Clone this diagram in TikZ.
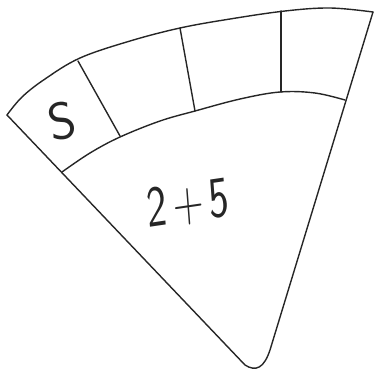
\documentclass[tikz,border=0pt]{standalone}
\begin{document}
\begin{tikzpicture}[x=1pt,y=-1pt,
  pen/.style={line width=1.4pt,draw=black!85,line cap=round,line join=round},
  hand/.style={font=\sffamily,text=black!85}]
\useasboundingbox (0,0) rectangle (377,376);
% outer arc
\draw[pen] plot[smooth,tension=0.6] coordinates{(7,115) (22,97) (45,79) (80,58) (130,41) (180,28) (230,19) (285,11) (330,8) (373,12)};
% inner arc
\draw[pen] plot[smooth,tension=0.6] coordinates{(62,172) (90,153) (120,137) (160,121) (195,111) (240,99) (280,92) (315,93) (345,100)};
% sides
\draw[pen] (373,12) -- (270,350) .. controls (264,368) and (256,372) .. (245,365) -- (7,115);
% dividers
\draw[pen] (78,61) -- (120,136);
\draw[pen] (180,28) -- (195,111);
\draw[pen] (281,11) -- (281,92);
% labels
\node[hand,font=\fontsize{52}{52}\sffamily,rotate=12] (s) at (62,121) {S};
\node[hand,font=\fontsize{54}{54}\sffamily,xscale=0.78,yscale=1.08,rotate=6,inner sep=0pt] (sum) at (188,204) {2\kern7pt+\kern7pt5};
\end{tikzpicture}
\end{document}
